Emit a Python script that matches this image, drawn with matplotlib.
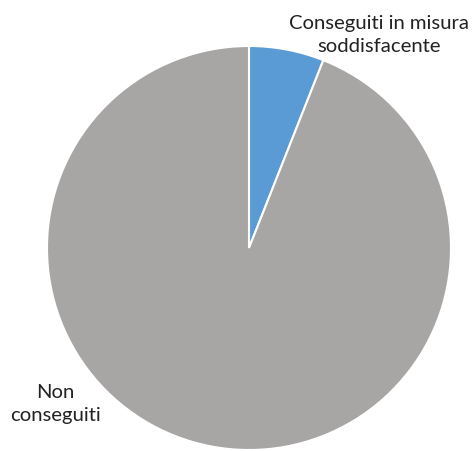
import matplotlib
matplotlib.use("Agg")
import matplotlib.pyplot as plt

labels = ["Conseguiti in misura\nsoddisfacente", "Non\nconseguiti"]
shares = [6.0, 94.0]
colors = ["#5B9BD5", "#A8A5A5"]

W, H = 473, 451
fig = plt.figure(figsize=(W / 100, H / 100), dpi=100)
# pie centre (249, 248) px from top-left, radius 202 px
cx, cy, r = 249, 248, 202
ax = fig.add_axes([(cx - r) / W, (H - cy - r) / H, 2 * r / W, 2 * r / H])
ax.pie(shares, colors=colors, startangle=90, counterclock=False, radius=1,
       wedgeprops=dict(edgecolor="white", linewidth=1.5))
ax.set_xlim(-1, 1)
ax.set_ylim(-1, 1)
ax.set_aspect("auto")
ax.axis("off")

font = dict(family="Lato", fontsize=14.6, color="#222222",
            ha="center", va="center", linespacing=1.4)
fig.text(379 / W, 1 - 35 / H, labels[0], **font)
fig.text(55 / W, 1 - 404 / H, labels[1], **font)

fig.savefig("out.png", dpi=100)
